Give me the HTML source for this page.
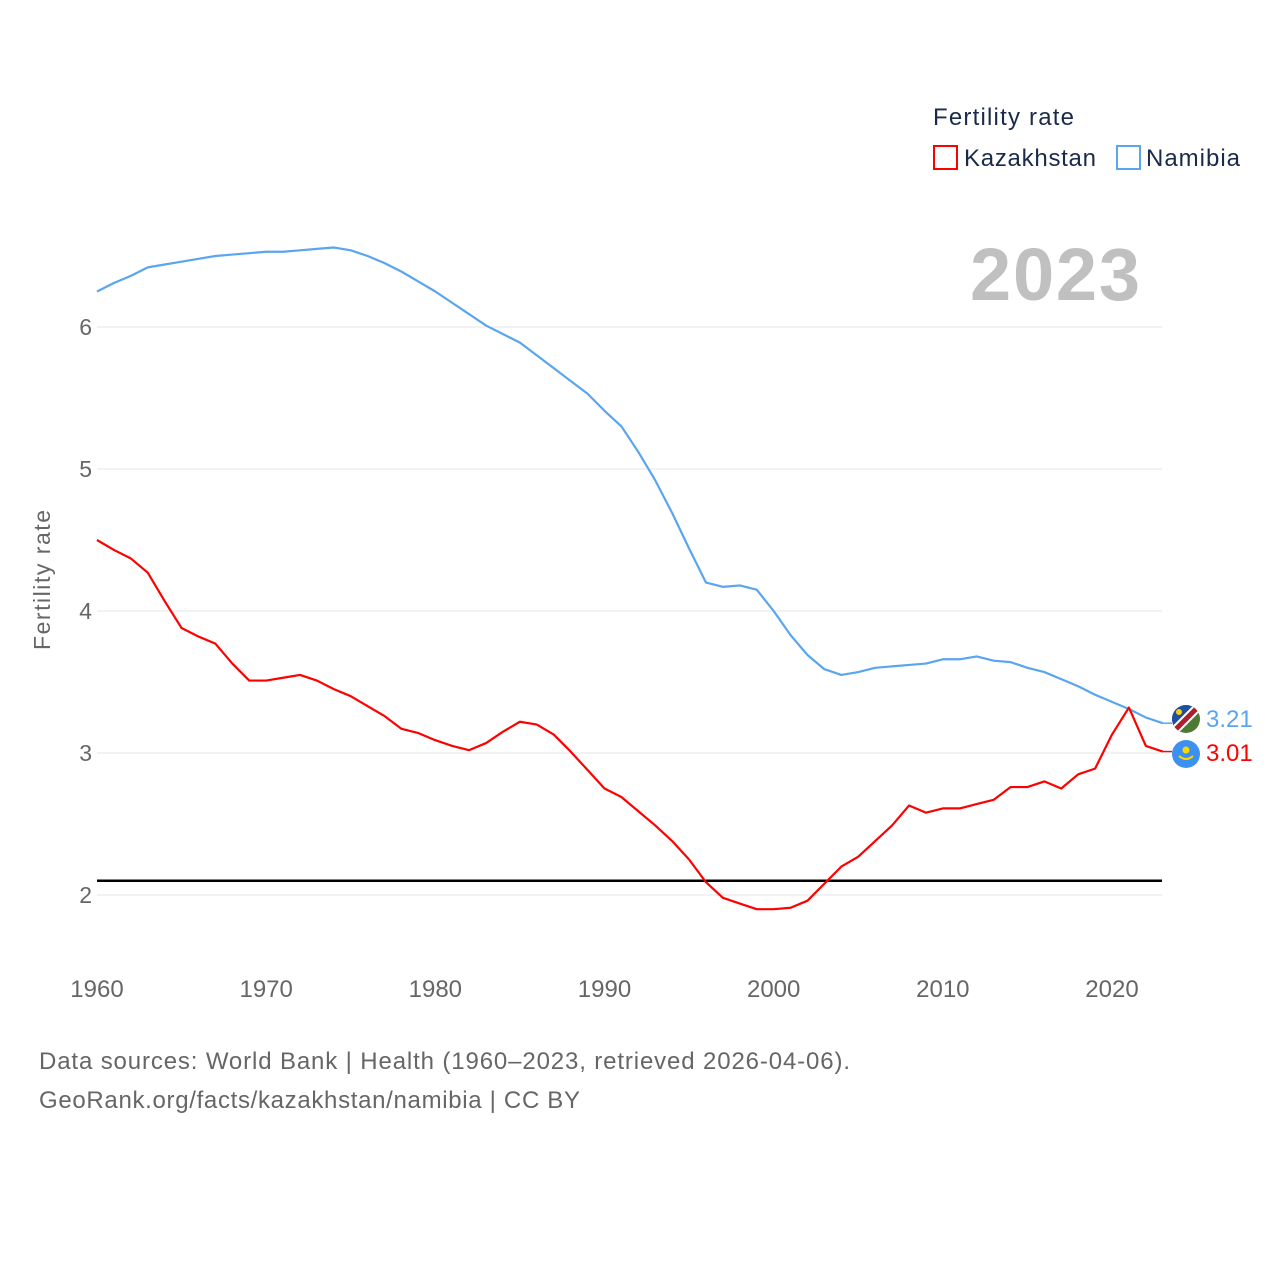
<!DOCTYPE html>
<html><head><meta charset="utf-8"><style>
body{margin:0;background:#fff;}
svg text{font-family:"Liberation Sans",sans-serif;}
</style></head><body>
<svg id="chart" width="1280" height="1280" xmlns="http://www.w3.org/2000/svg">
<rect width="1280" height="1280" fill="#fff"/>
<text x="933" y="125" font-size="24" fill="#1a2a4a" textLength="141">Fertility rate</text>
<g><rect x="934" y="146" width="23" height="23" fill="none" stroke="#ff0000" stroke-width="2"/><text x="964" y="166" font-size="24" fill="#1a2a4a" textLength="132">Kazakhstan</text></g>
<g><rect x="1117" y="146" width="23" height="23" fill="none" stroke="#5aa5f0" stroke-width="2"/><text x="1146" y="166" font-size="24" fill="#1a2a4a" textLength="94">Namibia</text></g>
<text x="1140" y="300" font-size="74" font-weight="bold" fill="#c0c0c0" text-anchor="end" textLength="170">2023</text>
<g id="grid"></g><g id="xt"></g><g id="series"></g>
<text transform="translate(50,580) rotate(-90)" font-size="23" fill="#666" text-anchor="middle" textLength="140">Fertility rate</text>
<text x="39" y="1069" font-size="24" fill="#666" textLength="811">Data sources: World Bank | Health (1960–2023, retrieved 2026-04-06).</text>
<text x="39" y="1108" font-size="24" fill="#666" textLength="541">GeoRank.org/facts/kazakhstan/namibia | CC BY</text>
<g>
<clipPath id="cn"><circle cx="1186" cy="719" r="14"/></clipPath>
<g clip-path="url(#cn)"><rect x="1170" y="703" width="32" height="32" fill="#4d7a30"/><polygon points="1170,703 1202,703 1170,735" fill="#1e4fa0"/><line x1="1168" y1="737" x2="1204" y2="701" stroke="#fff" stroke-width="9"/><line x1="1168" y1="737" x2="1204" y2="701" stroke="#b01e2e" stroke-width="5"/><circle cx="1179" cy="712" r="3" fill="#ffce00"/></g></g>
<g><circle cx="1186" cy="754" r="14" fill="#3c91f0"/><circle cx="1186" cy="750" r="3.5" fill="#ffd700"/><path d="M1179 756 Q1186 762 1193 756" stroke="#ffd700" stroke-width="2" fill="none"/></g>
<text x="1206" y="727" font-size="24" fill="#5aa5f0">3.21</text>
<text x="1206" y="761" font-size="24" fill="#ff0000">3.01</text>
</svg>
<script>
const years=[];for(let y=1960;y<=2023;y++)years.push(y);
const namibia=[6.25,6.31,6.36,6.42,6.44,6.46,6.48,6.50,6.51,6.52,6.53,6.53,6.54,6.55,6.56,6.54,6.50,6.45,6.39,6.32,6.25,6.17,6.09,6.01,5.95,5.89,5.80,5.71,5.62,5.53,5.41,5.30,5.12,4.92,4.69,4.44,4.20,4.17,4.18,4.15,4.00,3.83,3.69,3.59,3.55,3.57,3.60,3.61,3.62,3.63,3.66,3.66,3.68,3.65,3.64,3.60,3.57,3.52,3.47,3.41,3.36,3.31,3.25,3.21];
const kazakhstan=[4.50,4.43,4.37,4.27,4.07,3.88,3.82,3.77,3.63,3.51,3.51,3.53,3.55,3.51,3.45,3.40,3.33,3.26,3.17,3.14,3.09,3.05,3.02,3.07,3.15,3.22,3.20,3.13,3.01,2.88,2.75,2.69,2.59,2.49,2.38,2.25,2.09,1.98,1.94,1.90,1.90,1.91,1.96,2.08,2.20,2.27,2.38,2.49,2.63,2.58,2.61,2.61,2.64,2.67,2.76,2.76,2.80,2.75,2.85,2.89,3.13,3.32,3.05,3.01];
const yTicks=[2,3,4,5,6];
const xTicks=[1960,1970,1980,1990,2000,2010,2020];
const replacement=2.1;
const NS="http://www.w3.org/2000/svg";
const X=y=>97+(y-1960)*(1112-97)/60;
const Y=v=>895-(v-2)*142;
function mk(t,a,p){const e=document.createElementNS(NS,t);for(const k in a)e.setAttribute(k,a[k]);p.appendChild(e);return e;}
const grid=document.getElementById('grid');
yTicks.forEach(v=>{
 const l=mk('line',{x1:97,x2:1162,y1:Y(v),y2:Y(v),stroke:'#e6e6e6','stroke-width':1},grid);
 
 
 const t=mk('text',{x:92,y:Y(v)+8,'font-size':23,fill:'#666','text-anchor':'end'},grid);t.textContent=v;
 
 
});
const xt=document.getElementById('xt');
xTicks.forEach(v=>{
 const t=mk('text',{x:X(v),y:997,'font-size':24,fill:'#666','text-anchor':'middle'},xt);t.textContent=v;
 
 
});
const s=document.getElementById('series');
const rl=mk('line',{x1:97,x2:1162,y1:Y(replacement),y2:Y(replacement),stroke:'#000','stroke-width':2.5},s);


function line(d,c,n){
 const p=mk('polyline',{points:d.map((v,i)=>X(years[i])+','+Y(v)).join(' '),fill:'none',stroke:c,'stroke-width':2.2,'stroke-linejoin':'round'},s);
 
 
 const last=d[d.length-1];
 mk('line',{x1:X(2023),x2:1172,y1:Y(last),y2:Y(last),stroke:c,'stroke-width':1.5},s);
}
line(namibia,'#5aa5f0','namibia-line');
line(kazakhstan,'#ff0000','kazakhstan-line');
</script>
</body></html>
